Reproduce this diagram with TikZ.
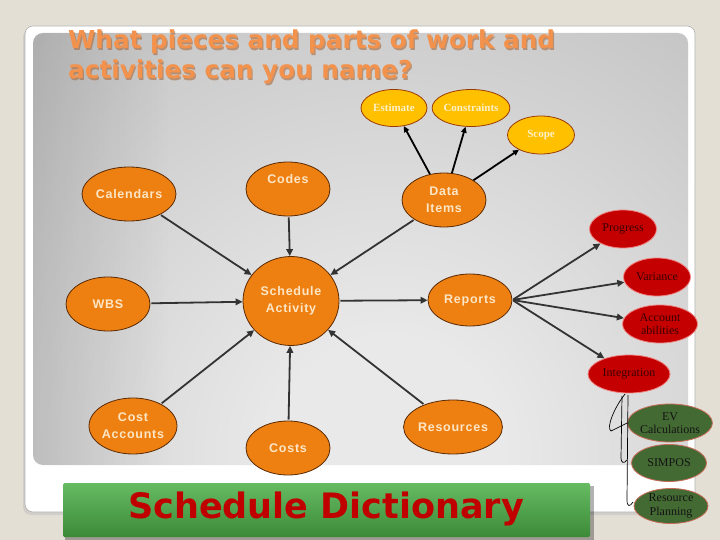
\documentclass[tikz,border=0pt]{standalone}
\usepackage{fontspec}
\usetikzlibrary{shapes.geometric,arrows.meta,fadings}
\setmainfont{Liberation Serif}
\newfontfamily\nodef[LetterSpace=6]{Liberation Sans}
\newfontfamily\titlef{DejaVu Sans}
\newfontfamily\serf{Liberation Serif}
\definecolor{bgbeige}{HTML}{E4DFD5}
\definecolor{framegray}{HTML}{B0B0B0}
\definecolor{plight}{HTML}{E9E9E9}
\definecolor{pdark}{HTML}{A6A6A6}
\definecolor{orng}{HTML}{EE8012}
\definecolor{brownb}{HTML}{5A2A05}
\definecolor{peach}{HTML}{FCE6C6}
\definecolor{yel}{HTML}{FFC000}
\definecolor{yelb}{HTML}{9A3A08}
\definecolor{yeltext}{HTML}{FFF0C8}
\definecolor{redf}{HTML}{C40000}
\definecolor{redb}{HTML}{F08080}
\definecolor{redtext}{HTML}{3A0000}
\definecolor{grnf}{HTML}{446A33}
\definecolor{grnb}{HTML}{C86A58}
\definecolor{grntext}{HTML}{141414}
\definecolor{titleor}{HTML}{F2924C}
\definecolor{titlesh}{HTML}{A8683A}
\definecolor{darkline}{HTML}{333333}
\definecolor{bantop}{HTML}{66BB62}
\definecolor{banbot}{HTML}{3C8A38}
\definecolor{bantext}{HTML}{C00000}
\pgfdeclareradialshading{panelshade}{\pgfpoint{0bp}{0bp}}{color(0bp)=(plight); color(4bp)=(plight); color(31bp)=(pdark); color(50bp)=(pdark)}
\tikzset{
  orangenode/.style={ellipse, draw=brownb, line width=0.8pt, fill=orng, minimum width=84pt, minimum height=54pt, inner sep=0pt, text=peach, align=center, font=\nodef\bfseries\fontsize{12.5}{17}\selectfont},
  yellownode/.style={ellipse, draw=yelb, line width=0.8pt, fill=yel, minimum width=66pt, minimum height=37pt, inner sep=0pt, text=yeltext, align=center, font=\serf\bfseries\fontsize{11}{13}\selectfont},
  rednode/.style={ellipse, draw=redb, line width=0.8pt, fill=redf, minimum width=67pt, minimum height=38pt, inner sep=0pt, text=redtext, align=center, font=\serf\fontsize{12}{13.5}\selectfont},
  greennode/.style={ellipse, draw=grnb, line width=0.8pt, fill=grnf, minimum width=74pt, minimum height=38pt, inner sep=0pt, text=grntext, align=center, font=\serf\fontsize{12}{13.5}\selectfont},
  conn/.style={draw=darkline, line width=1.8pt, -{Triangle[length=7pt,width=6.5pt]}, shorten <=1pt},
  connb/.style={draw=black, line width=1.8pt, -{Triangle[length=6pt,width=5.5pt]}},
  scribble/.style={draw=black, line width=0.7pt}
}
\begin{document}
\begin{tikzpicture}[x=1pt,y=-1pt]
\useasboundingbox (0,0) rectangle (720,540);
\fill[bgbeige] (0,0) rectangle (720,540);
% white frame
\fill[black!25,opacity=0.5,rounded corners=8pt] (23,29) rectangle (694,515);
\filldraw[fill=white,draw=framegray,line width=0.6pt,rounded corners=8pt] (25,26) rectangle (695,512);
% gray panel
\begin{scope}
\clip[rounded corners=10pt] (33,33) rectangle (688,465);
\shade[shading=panelshade] (390,450) circle (700);
\fill[black, opacity=0.1, path fading=east] (33,33) rectangle (170,465);
\end{scope}
% title
\node[anchor=north west, align=left, text=titlesh, opacity=0.6, font=\titlef\bfseries\fontsize{24.7}{30}\selectfont, inner sep=0pt] (titlesh) at (69.2,31.2) {What pieces and parts of work and\\activities can you name?};
\node[anchor=north west, align=left, text=titleor, font=\titlef\bfseries\fontsize{24.7}{30}\selectfont, inner sep=0pt] (title) at (68,30) {What pieces and parts of work and\\activities can you name?};
% orange nodes
\node[orangenode] (cal) at (129,194) {Calendars};
\node[orangenode] (codes) at (288,189) {Codes\\[4pt]};
\node[orangenode] (wbs) at (108,304) {WBS};
\node[orangenode, minimum width=96pt, minimum height=89pt] (sa) at (291,301) {Schedule\\Activity};
\node[orangenode] (di) at (444,200) {Data\\Items};
\node[orangenode, minimum height=52pt] (rep) at (470,300) {Reports};
\node[orangenode] (res) at (453,427) {Resources};
\node[orangenode, minimum height=56pt] (ca) at (133,426) {Cost\\Accounts};
\node[orangenode] (costs) at (288,448) {Costs};
% yellow nodes
\node[yellownode] (est) at (394,108) {Estimate};
\node[yellownode] (con) at (471,108) {Constraints};
\node[yellownode, minimum width=67pt, minimum height=38pt] (scope) at (541,135) {Scope};
% red nodes
\node[rednode] (prog) at (623,229) {Progress};
\node[rednode] (var) at (657,277) {Variance};
\node[rednode, minimum width=75pt] (acc) at (660,324) {Account\\abilities};
\node[rednode, minimum width=82pt] (integ) at (629,374) {Integration};
% green nodes
\node[greennode] (ev) at (670,423) {EV\\Calculations};
\node[greennode, minimum width=75pt, minimum height=37pt] (simpos) at (669,463) {SIMPOS};
\node[greennode, minimum height=35pt] (rp) at (671,506) {Resource\\Planning};
% connectors to Schedule Activity
\draw[conn] (cal) -- (sa);
\draw[conn] (codes) -- (sa);
\draw[conn] (wbs) -- (sa);
\draw[conn] (di) -- (sa);
\draw[conn] (res) -- (sa);
\draw[conn] (costs) -- (sa);
\draw[conn] (ca) -- (sa);
\draw[conn] (sa) -- (rep);
% Data Items to top ellipses
\draw[connb] (di) -- (est);
\draw[connb] (di) -- (con);
\draw[connb] (di) -- (scope);
% Reports to red ellipses
\draw[conn] (rep.east) -- (prog);
\draw[conn] (rep.east) -- (var);
\draw[conn] (rep.east) -- (acc);
\draw[conn] (rep.east) -- (integ);
% scribbles below Integration
\coordinate (s1) at (625,394);
\coordinate (s2) at (622,396);
\coordinate (s3) at (628,395);
\draw[scribble] (s1) .. controls (614,408) and (606,428) .. (611,431) -- (ev.west);
\draw[scribble] (s2) -- (621,458) .. controls (621,463) and (624,464) .. (627,460);
\draw[scribble] (s3) -- (627,500) .. controls (627,507) and (630,507) .. (633,502);
% banner
\fill[black,opacity=0.3] (65,486) rectangle (594,540);
\shade[top color=bantop, bottom color=banbot, rounded corners=1.5pt] (63,483) rectangle (590,537);
\node[text=bantext, font=\titlef\bfseries\fontsize{35}{40}\selectfont, inner sep=0pt] (banner) at (326,509) {Schedule Dictionary};
\end{tikzpicture}
\end{document}
